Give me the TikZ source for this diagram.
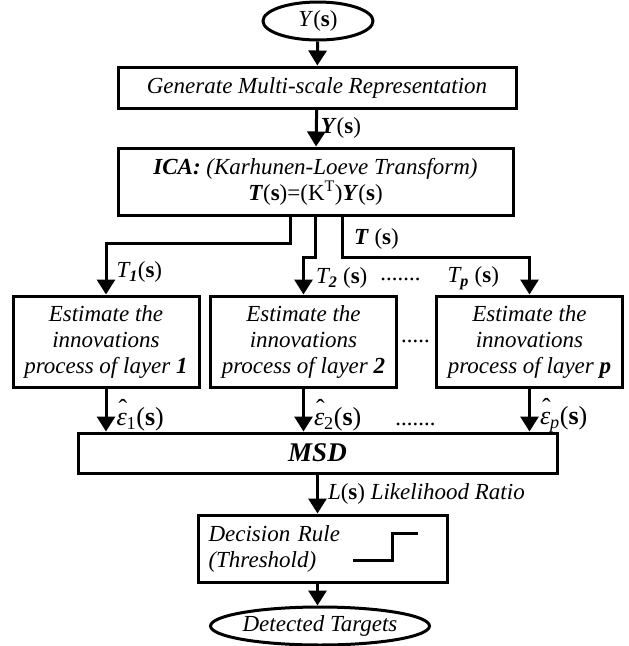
\documentclass[tikz,border=0pt]{standalone}
\usepackage{fontspec}
\setmainfont{Liberation Serif}
\usetikzlibrary{shapes, arrows.meta, calc}
\newcommand{\Sarg}{\textup{(\textbf{s})}}
\newcommand{\Eps}[1]{\fontsize{26}{28}\selectfont\rlap{\hspace{0.08em}\raisebox{0.3em}{\upshape ˆ}}\textit{ε}\textsubscript{\upshape #1}\Sarg}

\begin{document}
\fontsize{23}{26}\selectfont
\begin{tikzpicture}[x=1pt, y=-1pt, line width=3pt, >={Triangle[length=15pt,width=18pt]},
    bx/.style={rectangle, draw, font=\itshape, align=center, inner sep=2pt},
    ec/.style={ellipse, draw, font=\itshape, inner sep=0pt},
    lb/.style={font=\itshape, inner sep=1pt}]
            \useasboundingbox (0,0) rectangle (629,646);
            \draw (318,21) node[ec, minimum width=110, minimum height=38](in){Y\Sarg};
            \draw (317,87.5) node[bx, minimum width=398, minimum height=41](gen){Generate Multi-scale Representation};
            \draw (315.5,181.5) node[bx, minimum width=395, minimum height=67](ica){\textbf{ICA:} (Karhunen-Loeve Transform)\\
                \textbf{T}\textup{(\textbf{s})=(K\textsuperscript{T})}\textbf{Y}\Sarg};
            \draw (106,341.5) node[bx, minimum width=186, minimum height=91](e1){Estimate the\\innovations\\process of layer \textbf{1}};
            \draw (303.5,341.5) node[bx, minimum width=186, minimum height=91](e2){Estimate the\\innovations\\process of layer \textbf{2}};
            \draw (529.5,341.5) node[bx, minimum width=186, minimum height=91](ep){Estimate the\\innovations\\process of layer \textbf{p}};
            \draw (317.5,453) node[bx, minimum width=479, minimum height=40, font=\fontsize{27}{29}\selectfont\bfseries\itshape](msd){MSD};
            \draw (322.5,548.5) node[bx, minimum width=249, minimum height=67, text width=228, align=left](dec){Decision Rule\\(Threshold)};
            \draw (320,626) node[ec, minimum width=216, minimum height=38](out){Detected Targets};
            \draw (401,279) node[lb](d1){.......};
            \draw (416,341) node[lb](d2){.....};
            \draw (416,424) node[lb](d3){.......};

            \draw ($(dec)+(30.5,11.5)$) -- ++(39,0) -- ++(0,-27) -- ++(26,0);

            \begin{scope}[nd/.style={lb, anchor=west}]
                \path[->] (in)  edge (gen);
                \path[->] (gen) edge node[nd, xshift=2] {\textbf{Y}\Sarg} (ica);
                \draw[->] ([xshift=-25]ica.south) -- ++(0,27) -| node[nd, pos=0.78, xshift=8] {T\textsubscript{\textbf{1}}\Sarg} (e1.north);
                \draw[->] (ica.south) -- ++(0,41) -| node[nd, pos=0.78, xshift=10] {T\textsubscript{\textbf{2}} \Sarg} (e2.north);
                \draw[->] ([xshift=27]ica.south) -- node[nd, pos=0.55, xshift=9] {\textbf{T} \Sarg} ++(0,41)
                    -| node[lb, anchor=east, pos=0.78, xshift=-28] {T\textsubscript{\textbf{p}} \Sarg} (ep.north);
            \end{scope}

            \begin{scope}[nd/.style={lb, anchor=west, pos=0.62, xshift=8}]
                \path[->] (e1) edge node[nd] {\Eps{1}} (e1 |- msd.north);
                \path[->] (e2) edge node[nd] {\Eps{2}} (e2 |- msd.north);
                \path[->] (ep) edge node[nd] {\Eps{\itshape p}} (ep |- msd.north);
            \end{scope}

            \path[->] (msd) edge node[lb, anchor=west, pos=0.5, xshift=8] {L\Sarg{} Likelihood Ratio} (msd.south |- dec.north);
            \path[->] (dec.south -| msd.south) edge (msd.south |- out.north);
        \end{tikzpicture}
\end{document}
